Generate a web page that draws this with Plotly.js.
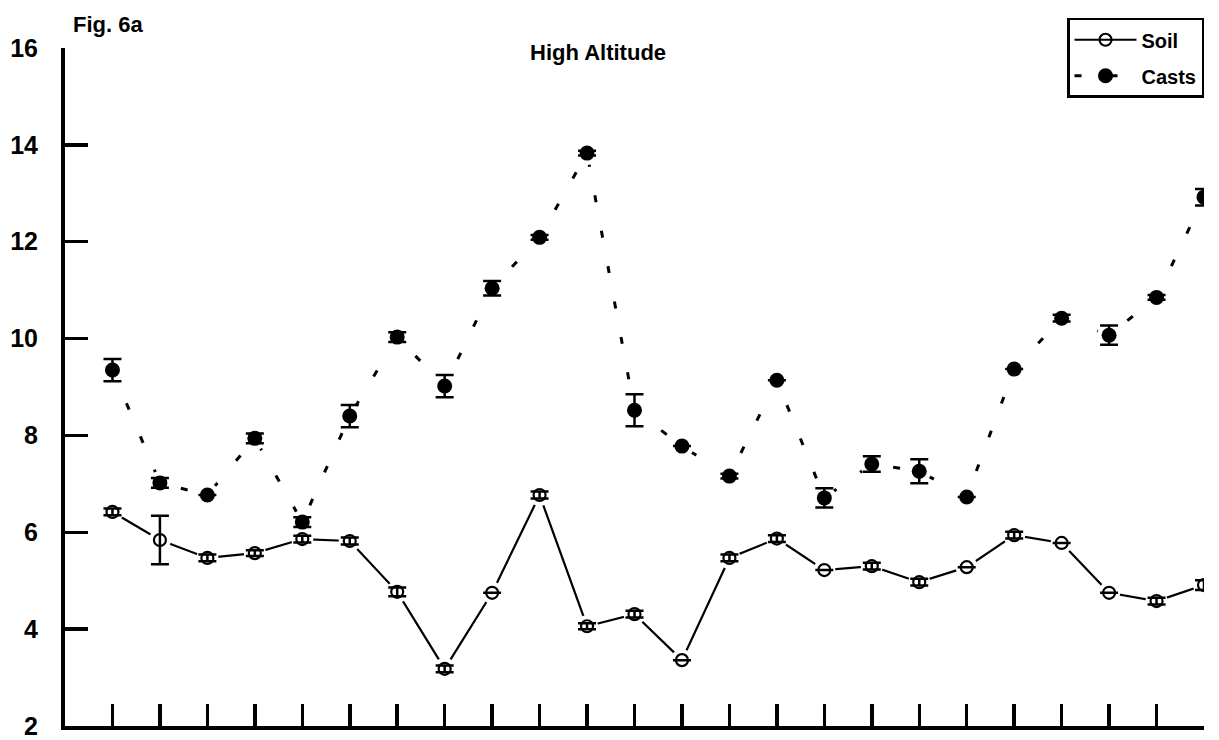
<!DOCTYPE html>
<html>
<head>
<meta charset="utf-8">
<script src="https://cdn.plot.ly/plotly-3.0.1.min.js"></script>
<style>
  html, body { margin: 0; padding: 0; background: #fff; }
  #chart { width: 1219px; height: 740px; }
</style>
</head>
<body>
<div id="chart"></div>
<script>
// Sampling sites along the transect (1..24)
const sites = [1, 2, 3, 4, 5, 6, 7, 8, 9, 10, 11, 12, 13, 14, 15, 16, 17, 18, 19, 20, 21, 22, 23, 24];

// Soil values and their standard errors
const soil = [6.42, 5.84, 5.47, 5.57, 5.86, 5.82, 4.77, 3.18, 4.75, 6.77, 4.06, 4.31,
              3.36, 5.47, 5.87, 5.22, 5.30, 4.97, 5.28, 5.94, 5.78, 4.75, 4.58, 4.91];
const soilErr = [0.07, 0.50, 0.07, 0.06, 0.07, 0.07, 0.09, 0.07, 0.00, 0.07, 0.06, 0.07,
                 0.00, 0.07, 0.07, 0.00, 0.07, 0.07, 0.00, 0.07, 0.00, 0.00, 0.07, 0.10];

// Worm cast values and their standard errors
const casts = [9.35, 7.02, 6.77, 7.94, 6.21, 8.40, 10.03, 9.02, 11.04, 12.09, 13.83, 8.52,
               7.78, 7.16, 9.14, 6.71, 7.41, 7.26, 6.73, 9.37, 10.42, 10.07, 10.85, 12.92];
const castsErr = [0.23, 0.10, 0.00, 0.10, 0.10, 0.23, 0.10, 0.23, 0.15, 0.05, 0.05, 0.33,
                  0.00, 0.05, 0.00, 0.20, 0.16, 0.25, 0.00, 0.00, 0.07, 0.20, 0.05, 0.17];

const yTicks = [2, 4, 6, 8, 10, 12, 14, 16];

const font = 'Liberation Sans, Arial, Helvetica, sans-serif';

const traces = [
  // connecting lines (also used for the legend entries)
  {
    x: sites, y: soil, name: 'Soil', mode: 'lines+markers', legendgroup: 'soil',
    line: { color: '#000', width: 2.2 },
    marker: { symbol: 'circle-open', size: 12, color: '#000', line: { width: 2.2, color: '#000' } },
    hoverinfo: 'skip'
  },
  {
    x: sites, y: casts, name: 'Casts', mode: 'lines+markers', legendgroup: 'casts',
    line: { color: '#000', width: 3, dash: '7px,29px' },
    marker: { symbol: 'circle', size: 15, color: '#000' },
    hoverinfo: 'skip'
  },
  // white halos leave a small gap between the lines and the symbols
  {
    x: sites, y: soil, mode: 'markers', showlegend: false, hoverinfo: 'skip',
    marker: { symbol: 'circle', size: 22, color: '#fff' }
  },
  {
    x: sites, y: casts, mode: 'markers', showlegend: false, hoverinfo: 'skip',
    marker: { symbol: 'circle', size: 24, color: '#fff' }
  },
  // symbols with error bars
  {
    x: sites, y: soil, mode: 'markers', showlegend: false,
    marker: { symbol: 'circle-open', size: 12, color: '#000', line: { width: 2.2, color: '#000' } },
    error_y: { type: 'data', array: soilErr, visible: true, color: '#000', thickness: 2.5, width: 9 }
  },
  {
    x: sites, y: casts, mode: 'markers', showlegend: false,
    marker: { symbol: 'circle', size: 15, color: '#000' },
    error_y: { type: 'data', array: castsErr, visible: true, color: '#000', thickness: 2.5, width: 9 }
  }
];

const layout = {
  width: 1219, height: 740,
  margin: { l: 65, r: 15, t: 48, b: 14, autoexpand: false },
  paper_bgcolor: '#fff', plot_bgcolor: '#fff',
  font: { family: font, color: '#000' },
  showlegend: true,
  legend: {
    x: 1, xanchor: 'right', xref: 'paper',
    y: 0.976, yanchor: 'top', yref: 'container',
    bgcolor: '#fff', bordercolor: '#000', borderwidth: 2.5,
    font: { family: font, size: 20, weight: 'bold', color: '#000' },
    itemwidth: 62, tracegroupgap: 7
  },
  xaxis: {
    range: [0, 24], tickvals: sites, showticklabels: false,
    ticks: 'inside', ticklen: 22, tickwidth: 3.5, tickcolor: '#000',
    showline: true, linecolor: '#000', linewidth: 4,
    showgrid: false, zeroline: false, fixedrange: true
  },
  yaxis: {
    range: [2, 16], tickvals: yTicks,
    ticks: 'inside', ticklen: 23, tickwidth: 3.5, tickcolor: '#000',
    ticklabelstandoff: 18,
    tickfont: { family: font, size: 25, weight: 'bold', color: '#000' },
    showline: true, linecolor: '#000', linewidth: 4,
    showgrid: false, zeroline: false, fixedrange: true
  },
  annotations: [
    {
      text: 'High Altitude', xref: 'paper', yref: 'paper',
      x: 0.468, y: 0.994, xanchor: 'center', yanchor: 'middle', showarrow: false,
      font: { family: font, size: 22, weight: 'bold', color: '#000' }
    },
    {
      text: 'Fig. 6a', xref: 'paper', yref: 'paper',
      x: 0.005, y: 1.035, xanchor: 'left', yanchor: 'middle', showarrow: false,
      font: { family: font, size: 22, weight: 'bold', color: '#000' }
    }
  ]
};

Plotly.newPlot('chart', traces, layout, { displayModeBar: false, staticPlot: true });
</script>
</body>
</html>
